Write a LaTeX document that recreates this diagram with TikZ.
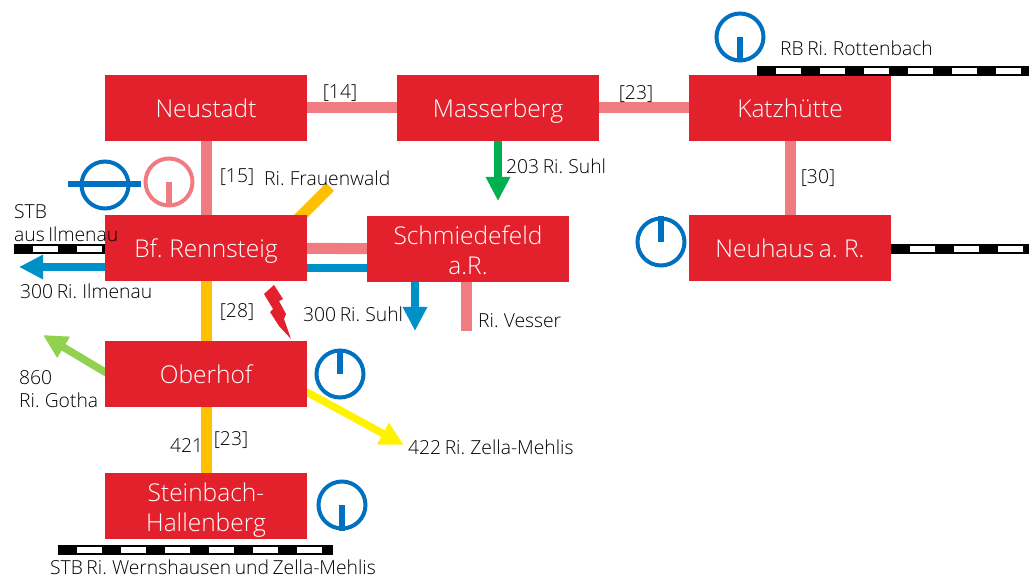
\documentclass[tikz,border=0pt]{standalone}
\usepackage{fontspec}
\setmainfont{Open Sans Light}[WordSpace=0.7]
\usetikzlibrary{arrows.meta,backgrounds}

\definecolor{stationred}{HTML}{E3212D}
\definecolor{linepink}{HTML}{F07C82}
\definecolor{lineorange}{HTML}{FFC000}
\definecolor{lineblue}{HTML}{0090C8}
\definecolor{linegreen}{HTML}{00B050}
\definecolor{linelime}{HTML}{92D050}
\definecolor{clockblue}{HTML}{0070C0}

\tikzset{
  station/.style={fill=stationred,text=white,minimum width=202pt,minimum height=66pt,inner sep=0pt,align=center,
    font=\fontsize{24.5}{30}\selectfont},
  oneline/.style={text height=24pt,text depth=5pt},
  label/.style={anchor=west,inner sep=0pt,text height=19pt,text depth=4pt,font=\fontsize{19.3}{23}\selectfont},
  minutes/.style={inner sep=0pt,text height=19pt,text depth=4pt,font=\fontsize{19.3}{20}\selectfont},
  road/.style={line width=11pt},
  bus/.style={line width=7.5pt,-{Triangle[width=23pt,length=24pt]}},
  track/.style={line width=10pt,black,postaction={draw,white,line width=6pt,dash pattern=on 25pt off 19pt,dash phase=25pt}},
  clock/.style={circle,draw=#1,line width=4pt,minimum size=47pt,inner sep=0pt},
  hand/.style={line width=5.5pt,#1}
}

\begin{document}
\begin{tikzpicture}[x=1pt,y=-1pt]
\useasboundingbox (0,0) rectangle (1029,580);

% Stationen
\node[station,oneline] (neustadt) at (206,108) {Neustadt};
\node[station,oneline] (masserberg) at (498,108) {Masserberg};
\node[station,oneline] (katzhuette) at (790,108) {Katzhütte};
\node[station,oneline] (rennsteig) at (206,248) {Bf. Rennsteig};
\node[station] (schmiedefeld) at (468,249) {\rule{0pt}{21pt}Schmiedefeld\\a.R.};
\node[station,oneline] (neuhaus) at (790,248) {Neuhaus a. R.};
\node[station,oneline] (oberhof) at (206,374) {Oberhof};
\node[station] (steinbach) at (206,506) {\rule{0pt}{27pt}Steinbach-\\Hallenberg};

% Freie Enden
\coordinate (rottenbachL) at (757,71);
\coordinate (rottenbachR) at (1029,71);
\coordinate (ilmenauL) at (14,249.5);
\coordinate (neuhausR) at (1029,249.5);
\coordinate (wernshausenL) at (58,549.5);
\coordinate (wernshausenR) at (333,549.5);
\coordinate (frauenwald) at (330,187);
\coordinate (vesser) at (466,331);
\coordinate (suhlN) at (498,201);
\coordinate (suhlS) at (415,331);
\coordinate (ilmenauA) at (19,267);
\coordinate (gotha) at (43,335);
\coordinate (gothaS) at (130,387);
\coordinate (zella) at (404,445);
\coordinate (zellaS) at (290,383);
\coordinate (frauenwaldS) at (290,227);

% Gleise
\draw[track] (rottenbachL) -- (rottenbachR);
\draw[track] (ilmenauL) -- (rennsteig.west |- ilmenauL);
\draw[track] (neuhaus.east |- neuhausR) -- (neuhausR);
\draw[track] (wernshausenL) -- (wernshausenR);

\begin{scope}[on background layer]
% Verbindungen
\draw[road,linepink] (neustadt) -- (masserberg);
\draw[road,linepink] (masserberg) -- (katzhuette);
\draw[road,linepink] (neustadt) -- (rennsteig);
\draw[road,linepink] (katzhuette) -- (neuhaus);
\draw[road,linepink] (rennsteig) -- (schmiedefeld);
\draw[road,linepink] (schmiedefeld.south -| vesser) -- (vesser);
\draw[road,lineorange] (rennsteig) -- (oberhof);
\draw[road,lineorange] (oberhof) -- (steinbach);
\draw[road,lineorange] (frauenwaldS) -- (frauenwald);
\draw[line width=7.5pt,lineblue] ([yshift=-20pt]rennsteig.east) -- ([yshift=-19pt]schmiedefeld.west);

% Bus
\draw[bus,linegreen] (masserberg.south) -- (suhlN);
\draw[bus,lineblue] (schmiedefeld.south -| suhlS) -- (suhlS);
\draw[bus,lineblue] (rennsteig.west |- ilmenauA) -- (ilmenauA);
\draw[bus,linelime] (gothaS) -- (gotha);
\draw[bus,yellow] (zellaS) -- (zella);
\end{scope}

% Blitz
\fill[stationred] (274,285) -- (264,294) -- (273,309) -- (270,312) -- (279,326) -- (291,339)
  -- (284,319) -- (286,314) -- (279,301) -- (283,299) -- cycle;

% Uhren
\node[clock=clockblue] (clockK) at (740,37) {};
\draw[hand=clockblue] (clockK.center) -- (clockK.south);
\node[clock=clockblue] (clockN) at (661,242) {};
\draw[hand=clockblue] (clockN.center) -- (clockN.north);
\node[clock=clockblue] (clockO) at (340,374) {};
\draw[hand=clockblue] (clockO.center) -- (clockO.north);
\node[clock=clockblue] (clockS) at (342,505) {};
\draw[hand=clockblue] (clockS.center) -- (clockS.south);
\node[clock=linepink] (clockR) at (169,182) {};
\draw[hand=linepink] (clockR.center) -- (clockR.south);
\node[clock=clockblue] (clockB) at (105,185) {};
\draw[hand=clockblue] (68,184) -- (141,184);

% Minuten
\node[minutes] at (340,91) {[14]};
\node[minutes] at (636,92) {[23]};
\node[minutes] at (237,175) {[15]};
\node[minutes] at (818,176) {[30]};
\node[minutes] at (237,310) {[28]};
\node[minutes] at (231,438) {[23]};

% Linien
\node[label] at (264,178) {Ri. Frauenwald};
\node[label] at (506,166) {203 Ri. Suhl};
\node[label] at (14,211) {STB};
\node[label] at (14,234) {aus Ilmenau};
\node[label] at (20,291) {300 Ri. Ilmenau};
\node[label] at (303,314) {300 Ri. Suhl};
\node[label] at (478,320) {Ri. Vesser};
\node[label] at (19,377) {860};
\node[label] at (19,400) {Ri. Gotha};
\node[label] at (170,445) {421};
\node[label] at (408,447) {422 Ri. Zella-Mehlis};
\node[label] at (780,48) {RB Ri. Rottenbach};
\node[label,anchor=base west,text height=15pt,text depth=0pt] at (50,574.5) {STB Ri. Wernshausen und Zella-Mehlis};

\end{tikzpicture}
\end{document}
